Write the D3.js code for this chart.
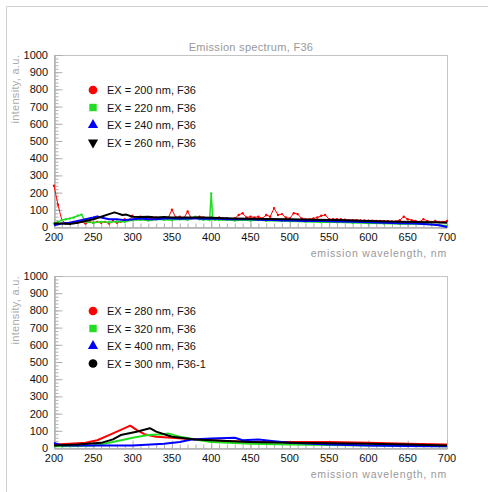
<!DOCTYPE html>
<html>
<head>
<meta charset="utf-8">
<title>Emission spectrum, F36</title>
<script src="https://d3js.org/d3.v7.min.js"></script>
<style>
  body { margin: 0; background: #fff; }
  text { font-family: "Liberation Sans", Arial, sans-serif; }
</style>
</head>
<body>
<svg id="chart" width="488" height="492"></svg>
<script>
// ---- data ----
let xTicks = [200, 250, 300, 350, 400, 450, 500, 550, 600, 650, 700];
let yTicks = [0, 100, 200, 300, 400, 500, 600, 700, 800, 900, 1000];

// top panel
let ex200x = d3.range(200, 701, 5);
let ex200y = [240, 130, 40, 20, 25, 30, 25, 30, 20, 30, 25, 30, 25, 30, 20, 35, 25, 30, 45, 40,
  65, 45, 60, 50, 55, 45, 55, 50, 55, 50, 100, 55, 60, 50, 90, 50, 55, 60, 55, 50,
  55, 50, 55, 45, 50, 45, 50, 70, 80, 55, 60, 55, 60, 50, 70, 60, 110, 70, 75, 55,
  50, 80, 75, 50, 45, 45, 50, 55, 65, 70, 45, 45, 45, 45, 42, 40, 40, 40, 38, 38,
  36, 36, 35, 35, 34, 33, 32, 32, 40, 60, 45, 40, 35, 30, 45, 35, 30, 35, 30, 30, 35];

let ex220x = [200, 205, 210, 215, 220, 225, 230, 235, 240, 250, 260, 270, 280, 290, 300, 310, 320, 330,
  340, 350, 360, 370, 380, 385, 390, 395, 398, 400, 402, 405, 410, 420, 430, 440, 450, 460, 470, 480,
  490, 500, 520, 540, 560, 580, 600, 620, 640, 660, 680, 690, 700];
let ex220y = [20, 30, 40, 45, 50, 55, 65, 72, 30, 25, 30, 28, 32, 30, 40, 42, 38, 45, 42, 40, 45, 42,
  60, 45, 42, 45, 40, 195, 45, 42, 40, 42, 38, 40, 38, 40, 36, 38, 35, 34, 30, 28, 28, 25, 22, 20,
  18, 18, 15, 12, 8];

let ex240x = [200, 210, 220, 230, 240, 250, 255, 260, 270, 280, 290, 300, 310, 320, 330, 340, 350,
  360, 370, 380, 390, 400, 410, 420, 430, 440, 450, 460, 470, 480, 490, 500, 520, 540, 560, 580,
  600, 620, 640, 660, 680, 690, 700];
let ex240y = [10, 20, 25, 35, 45, 55, 62, 55, 45, 45, 40, 45, 50, 45, 45, 50, 50, 48, 50, 50, 48, 50,
  48, 45, 45, 45, 45, 42, 40, 40, 38, 38, 35, 35, 32, 30, 28, 25, 22, 20, 15, 10, 0];

let ex260x = [200, 210, 220, 230, 240, 250, 260, 270, 277, 282, 287, 292, 300, 310, 320, 330, 340,
  350, 370, 390, 410, 430, 450, 470, 500, 530, 560, 600, 640, 680, 700];
let ex260y = [20, 20, 18, 25, 35, 45, 60, 75, 85, 78, 70, 72, 60, 58, 60, 55, 58, 55, 55, 55, 52,
  50, 48, 47, 45, 42, 40, 35, 30, 28, 25];

// bottom panel
let ex280x = [200, 220, 240, 255, 270, 285, 297, 305, 315, 330, 350, 380, 420, 450, 500, 550, 600, 650, 700];
let ex280y = [20, 25, 30, 45, 75, 105, 130, 105, 80, 65, 60, 50, 40, 35, 35, 35, 30, 25, 20];

let ex320x = [200, 230, 250, 270, 290, 300, 320, 340, 345, 360, 380, 400, 450, 500, 550, 600, 650, 700];
let ex320y = [10, 12, 15, 30, 50, 60, 75, 80, 85, 65, 50, 35, 25, 20, 18, 15, 12, 10];

let ex400x = [200, 210, 250, 300, 340, 360, 375, 400, 430, 440, 460, 480, 500, 550, 600, 650, 700];
let ex400y = [30, 15, 15, 15, 25, 35, 50, 55, 60, 45, 50, 40, 30, 20, 15, 12, 10];

let ex300x = [200, 230, 260, 275, 285, 305, 322, 330, 350, 380, 420, 450, 500, 550, 600, 650, 700];
let ex300y = [15, 20, 30, 50, 75, 95, 115, 95, 65, 50, 40, 35, 30, 28, 25, 20, 15];

let topLabels = ['EX = 200 nm, F36', 'EX = 220 nm, F36', 'EX = 240 nm, F36', 'EX = 260 nm, F36'];
let bottomLabels = ['EX = 280 nm, F36', 'EX = 320 nm, F36', 'EX = 400 nm, F36', 'EX = 300 nm, F36-1'];

let colors = ['#ff0000', '#22dd22', '#0000ff', '#000000'];

// ---- drawing ----
let svg = d3.select('#chart');

// outer frame (left and top)
svg.append('path')
  .attr('d', 'M6.5,492 V6.5 H488')
  .attr('fill', 'none')
  .attr('stroke', '#d0d0d0');

svg.append('text')
  .attr('x', 251).attr('y', 51)
  .attr('text-anchor', 'middle')
  .attr('font-size', 11)
  .attr('fill', '#999')
  .attr('letter-spacing', 0.3)
  .text('Emission spectrum, F36');

function zip(xs, ys) {
  return xs.map((x, i) => [x, ys[i]]);
}

function drawPanel(top, series, labels, symbols) {
  let plotLeft = 54, plotRight = 447;
  let plotTop = top, plotBottom = top + 172;

  let x = d3.scaleLinear().domain([200, 700]).range([plotLeft, plotRight]);
  let y = d3.scaleLinear().domain([0, 1000]).range([plotBottom, plotTop]);

  let g = svg.append('g');

  // frame
  g.append('rect')
    .attr('x', plotLeft + 0.5).attr('y', plotTop + 0.5)
    .attr('width', plotRight - plotLeft).attr('height', plotBottom - plotTop)
    .attr('fill', 'none').attr('stroke', '#c4c4c4');

  // y axis: major ticks inside, minor every 20
  let yAxis = d3.axisRight(y).tickValues(yTicks).tickSize(8).tickFormat('');
  let yMinor = d3.axisRight(y).tickValues(d3.range(0, 1001, 20)).tickSize(4).tickFormat('');
  g.append('g').attr('transform', 'translate(' + (plotLeft + 0.5) + ',0)').call(yMinor);
  g.append('g').attr('transform', 'translate(' + (plotLeft + 0.5) + ',0)').call(yAxis);

  // x axis: ticks pointing up into the plot
  let xAxis = d3.axisTop(x).tickValues(xTicks).tickSize(8).tickFormat('');
  let xMinor = d3.axisTop(x).tickValues(d3.range(200, 701, 10)).tickSize(4).tickFormat('');
  g.append('g').attr('transform', 'translate(0,' + (plotBottom + 0.5) + ')').call(xMinor);
  g.append('g').attr('transform', 'translate(0,' + (plotBottom + 0.5) + ')').call(xAxis);

  g.selectAll('.domain').attr('stroke', '#b0b0b0');
  g.selectAll('.tick line').attr('stroke', '#b0b0b0');

  // tick labels
  g.selectAll('.ylab').data(yTicks).join('text')
    .attr('x', plotLeft - 6).attr('y', d => y(d) + 4)
    .attr('text-anchor', 'end').attr('font-size', 11).attr('fill', '#111')
    .text(d => d);
  g.selectAll('.xlab').data(xTicks).join('text')
    .attr('x', d => x(d)).attr('y', plotBottom + 14)
    .attr('text-anchor', 'middle').attr('font-size', 11).attr('fill', '#111')
    .text(d => d);

  // axis titles
  g.append('text')
    .attr('transform', 'translate(19,' + plotTop + ') rotate(-90)')
    .attr('text-anchor', 'end').attr('font-size', 11).attr('fill', '#aaa')
    .attr('letter-spacing', 0.3)
    .text('intensity, a.u.');
  g.append('text')
    .attr('x', plotRight).attr('y', plotBottom + 30)
    .attr('text-anchor', 'end').attr('font-size', 10.5).attr('fill', '#999')
    .attr('letter-spacing', 0.8)
    .text('emission wavelength, nm');

  // series
  let line = d3.line().x(d => x(d[0])).y(d => y(d[1]));
  series.forEach((s, i) => {
    g.append('path')
      .datum(s.points)
      .attr('fill', 'none')
      .attr('stroke', colors[i])
      .attr('stroke-width', s.width)
      .attr('stroke-linejoin', 'round')
      .attr('d', line);
    if (s.dots) {
      g.selectAll(null).data(s.points).join('circle')
        .attr('cx', d => x(d[0])).attr('cy', d => y(d[1]))
        .attr('r', 1.2).attr('fill', colors[i]);
    }
  });

  // legend
  labels.forEach((lab, i) => {
    let ly = plotTop + 35 + i * 17.5;
    g.append('path')
      .attr('d', d3.symbol().type(symbols[i].type).size(symbols[i].size)())
      .attr('transform', 'translate(93,' + ly + ')' + (symbols[i].flip ? ' rotate(180)' : ''))
      .attr('fill', colors[i]);
    g.append('text')
      .attr('x', 107).attr('y', ly + 4)
      .attr('font-size', 11).attr('fill', '#111')
      .text(lab);
  });
}

drawPanel(55, [
  { points: zip(ex200x, ex200y), width: 1, dots: true },
  { points: zip(ex220x, ex220y), width: 1.5, dots: true },
  { points: zip(ex240x, ex240y), width: 2 },
  { points: zip(ex260x, ex260y), width: 2 }
], topLabels, [
  { type: d3.symbolCircle, size: 60 },
  { type: d3.symbolSquare, size: 55 },
  { type: d3.symbolTriangle, size: 45 },
  { type: d3.symbolTriangle, size: 45, flip: true }
]);

drawPanel(276, [
  { points: zip(ex280x, ex280y), width: 2 },
  { points: zip(ex320x, ex320y), width: 2 },
  { points: zip(ex400x, ex400y), width: 2 },
  { points: zip(ex300x, ex300y), width: 2 }
], bottomLabels, [
  { type: d3.symbolCircle, size: 60 },
  { type: d3.symbolSquare, size: 55 },
  { type: d3.symbolTriangle, size: 45 },
  { type: d3.symbolCircle, size: 60 }
]);
</script>
</body>
</html>
